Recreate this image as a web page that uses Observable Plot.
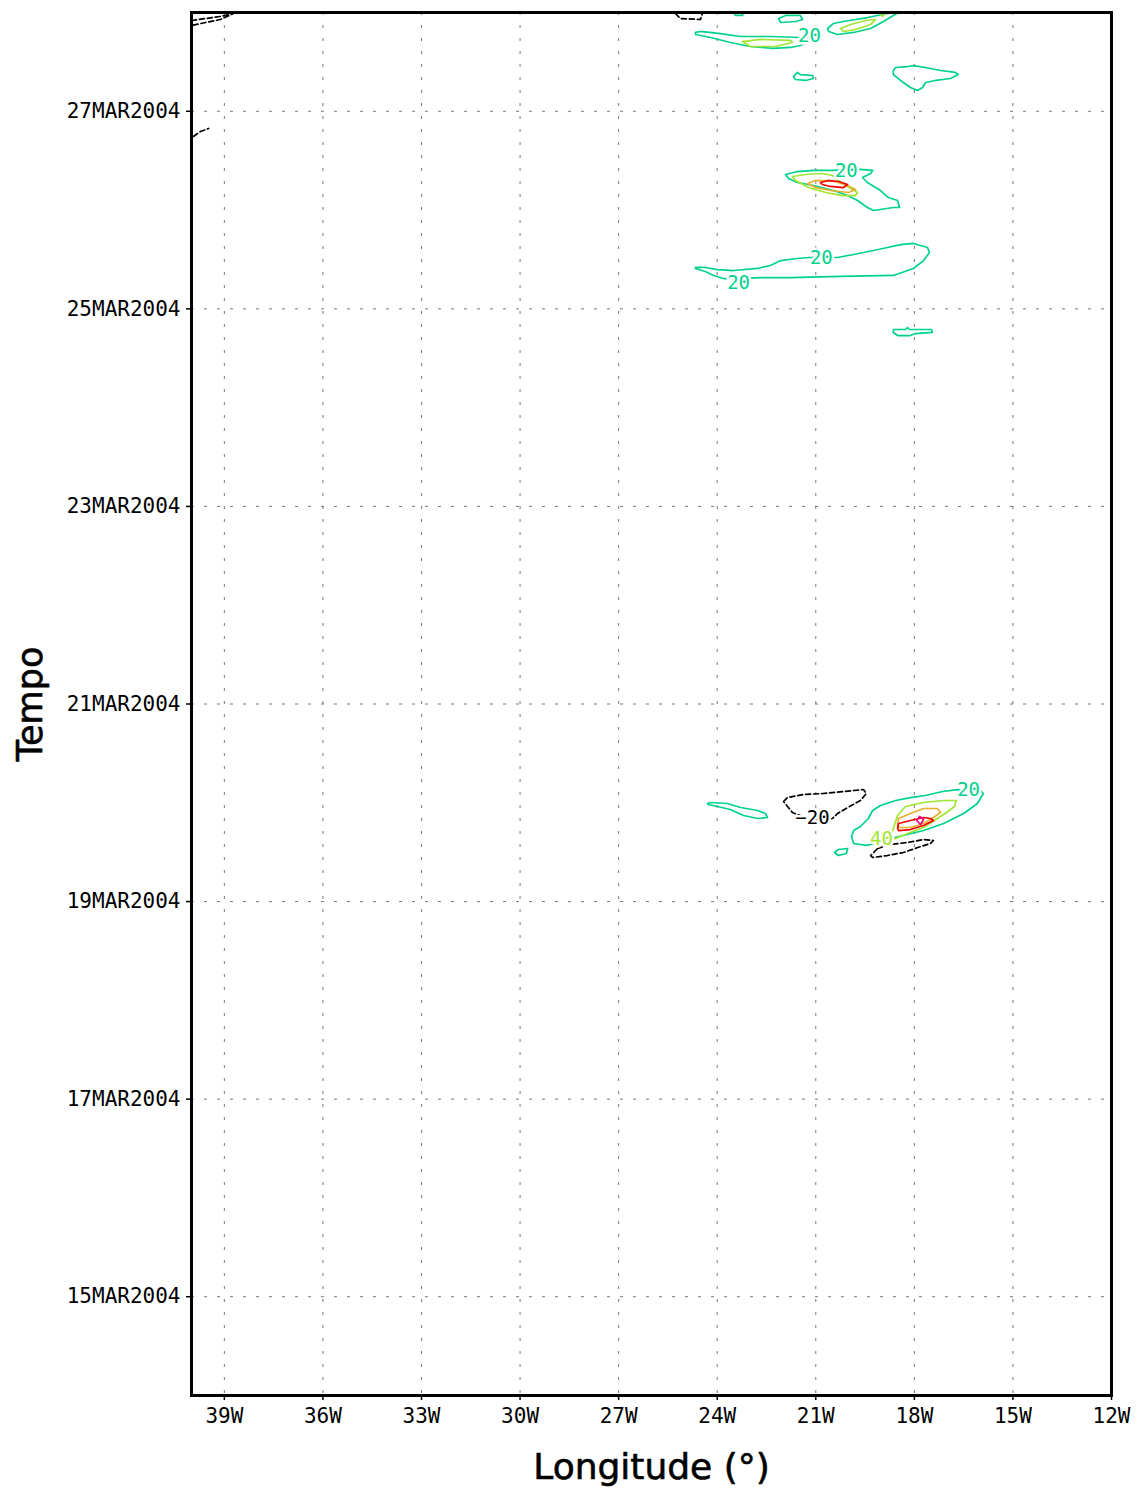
<!DOCTYPE html>
<html>
<head>
<meta charset="utf-8">
<script src="https://cdn.jsdelivr.net/npm/d3@7"></script>
<script src="https://cdn.jsdelivr.net/npm/@observablehq/plot@0.6"></script>
<style>
  html, body { margin: 0; padding: 0; background: #fff; }
</style>
</head>
<body>
<div id="chart"></div>
<script>
// Axis ticks (longitude in degrees east, negative = W; time in day-of-March 2004)
const xTicks = [-39, -36, -33, -30, -27, -24, -21, -18, -15, -12];
const xTickLabels = ["39W", "36W", "33W", "30W", "27W", "24W", "21W", "18W", "15W", "12W"];
const yTicks = [15, 17, 19, 21, 23, 25, 27];
const yTickLabels = ["15MAR2004", "17MAR2004", "19MAR2004", "21MAR2004", "23MAR2004", "25MAR2004", "27MAR2004"];

// Contour levels and colours
const levels = [-20, 20, 40, 60, 80, 100];
const levelColors = ["#000000", "#00d28c", "#a0e632", "#e6af2d", "#f00000", "#f00082"];

// Contour polylines: [longitude, day of March 2004]
const neg_topLeft = [[-40.00,27.919],[-39.57,27.939],[-39.12,27.960],[-38.72,27.990],[-39.12,27.929],[-39.57,27.899],[-40.00,27.868]];
const neg_left = [[-39.94,26.745],[-39.73,26.795],[-39.48,26.826]];
const neg_top = [[-25.27,27.990],[-25.12,27.939],[-24.51,27.929],[-24.45,27.990]];
const g20_tiny = [[-23.50,28.0],[-23.44,27.970],[-23.23,27.970],[-23.20,28.0]];
const g20_a = [[-22.13,27.939],[-21.92,27.970],[-21.47,27.970],[-21.40,27.929],[-21.61,27.909],[-22.07,27.899]];
const g20_b = [[-24.66,27.798],[-24.51,27.808],[-23.90,27.787],[-23.29,27.757],[-22.38,27.757],[-21.47,27.747],[-21.01,27.737],[-21.47,27.666],[-21.77,27.646],[-22.29,27.636],[-22.99,27.656],[-23.60,27.696],[-24.20,27.747],[-24.66,27.777]];
const y40_b = [[-23.23,27.706],[-22.68,27.727],[-21.77,27.717],[-21.71,27.696],[-22.23,27.656],[-22.99,27.656]];
const g20_c = [[-18.51,28.000],[-18.82,27.990],[-19.43,27.949],[-20.16,27.909],[-20.46,27.889],[-20.64,27.838],[-20.61,27.808],[-20.34,27.777],[-19.85,27.798],[-19.33,27.838],[-18.94,27.909],[-18.64,27.970],[-18.48,28.000]];
const y40_c = [[-20.25,27.838],[-19.94,27.879],[-19.49,27.919],[-19.18,27.929],[-19.33,27.879],[-19.79,27.828],[-20.16,27.808]];
const y40_d = [[-19.06,28.0],[-18.97,27.960],[-18.85,28.0]];
const g20_d = [[-21.68,27.352],[-21.56,27.393],[-21.47,27.372],[-21.10,27.362],[-21.07,27.332],[-21.31,27.312],[-21.62,27.322]];
const g20_e = [[-18.64,27.413],[-18.57,27.443],[-18.21,27.453],[-18.03,27.463],[-17.66,27.443],[-17.20,27.413],[-16.75,27.393],[-16.66,27.372],[-16.90,27.332],[-17.36,27.312],[-17.66,27.291],[-17.75,27.241],[-17.90,27.210],[-18.12,27.241],[-18.42,27.312],[-18.64,27.372]];
const g20_f = [[-21.92,26.360],[-21.56,26.390],[-21.07,26.401],[-20.46,26.401],[-20.03,26.411],[-19.64,26.411],[-19.27,26.401],[-19.33,26.370],[-19.58,26.330],[-19.43,26.279],[-19.03,26.198],[-18.79,26.127],[-18.51,26.097],[-18.45,26.026],[-18.64,26.026],[-19.24,25.996],[-19.43,26.026],[-19.73,26.097],[-20.03,26.147],[-20.46,26.198],[-21.07,26.249],[-21.56,26.279],[-21.83,26.320]];
const y40_f = [[-21.71,26.340],[-21.31,26.360],[-20.80,26.370],[-20.49,26.350],[-20.19,26.269],[-19.73,26.178],[-19.79,26.147],[-20.19,26.147],[-20.70,26.178],[-21.22,26.228],[-21.62,26.299]];
const o60_f = [[-21.25,26.269],[-21.01,26.299],[-20.55,26.299],[-20.10,26.259],[-19.79,26.208],[-20.00,26.178],[-20.55,26.198],[-21.01,26.228]];
const r80_f = [[-20.86,26.279],[-20.61,26.299],[-20.31,26.289],[-20.03,26.259],[-20.16,26.228],[-20.55,26.239],[-20.80,26.259]];
const g20_g = [[-24.66,25.419],[-24.36,25.419],[-23.99,25.398],[-23.50,25.388],[-22.77,25.409],[-22.38,25.439],[-22.07,25.489],[-21.56,25.510],[-21.22,25.520],[-20.34,25.520],[-19.85,25.550],[-19.24,25.591],[-18.82,25.621],[-18.42,25.651],[-18.03,25.662],[-17.60,25.621],[-17.54,25.570],[-17.72,25.489],[-18.03,25.409],[-18.64,25.338],[-20.25,25.328],[-21.77,25.317],[-22.68,25.317],[-23.29,25.307],[-23.81,25.307],[-24.11,25.338],[-24.36,25.378],[-24.66,25.409]];
const g20_h = [[-18.64,24.791],[-18.27,24.791],[-18.21,24.811],[-18.15,24.791],[-17.48,24.791],[-17.45,24.761],[-17.97,24.750],[-18.12,24.730],[-18.51,24.730],[-18.64,24.761]];
const g20_i = [[-24.30,19.993],[-24.20,20.003],[-23.69,19.993],[-23.29,19.952],[-22.77,19.922],[-22.53,19.891],[-22.47,19.851],[-22.77,19.841],[-23.20,19.871],[-23.60,19.932],[-23.99,19.962],[-24.27,19.983]];
const neg_i = [[-21.98,20.013],[-21.86,20.053],[-21.37,20.084],[-20.77,20.094],[-20.16,20.114],[-19.55,20.134],[-19.46,20.094],[-19.64,20.023],[-20.03,19.952],[-20.34,19.891],[-20.49,19.841],[-21.10,19.821],[-21.71,19.902],[-21.86,19.962]];
const g20_j = [[-19.40,19.841],[-19.27,19.922],[-19.03,19.972],[-18.57,20.023],[-18.12,20.053],[-17.66,20.074],[-17.14,20.114],[-16.69,20.134],[-15.99,20.124],[-15.90,20.094],[-16.08,19.993],[-16.50,19.891],[-17.11,19.790],[-17.72,19.719],[-18.21,19.679],[-18.73,19.638],[-19.24,19.588],[-19.43,19.568],[-19.85,19.588],[-19.91,19.659],[-19.85,19.719],[-19.64,19.760]];
const y40_j = [[-18.73,19.638],[-18.64,19.740],[-18.51,19.871],[-18.27,19.962],[-17.72,20.003],[-17.11,20.023],[-16.72,20.023],[-16.78,19.962],[-17.02,19.902],[-17.30,19.841],[-17.72,19.750],[-18.21,19.689],[-18.57,19.638]];
const o60_j = [[-18.51,19.770],[-18.48,19.841],[-18.12,19.891],[-17.72,19.942],[-17.30,19.942],[-17.20,19.902],[-17.42,19.851],[-17.72,19.790],[-18.12,19.750],[-18.48,19.750]];
const r80_j = [[-18.51,19.740],[-18.48,19.790],[-18.12,19.821],[-17.72,19.851],[-17.51,19.841],[-17.42,19.821],[-17.72,19.770],[-18.12,19.729],[-18.48,19.719]];
const m100_j = [[-17.93,19.821],[-17.84,19.861],[-17.72,19.831],[-17.81,19.780]];
const g20_k = [[-20.43,19.497],[-20.31,19.527],[-20.03,19.537],[-20.07,19.487],[-20.31,19.466]];
const neg_k = [[-19.12,19.537],[-18.73,19.578],[-18.21,19.598],[-17.72,19.628],[-17.42,19.618],[-17.51,19.588],[-17.90,19.547],[-18.33,19.497],[-18.82,19.466],[-19.27,19.446],[-19.33,19.466],[-19.18,19.517]];

// Contour labels
const contourLabels = [
  {lon: -21.19, day: 27.767, text: "20", level: 20},
  {lon: -20.07, day: 26.401, text: "20", level: 20},
  {lon: -20.83, day: 25.520, text: "20", level: 20},
  {lon: -23.35, day: 25.267, text: "20", level: 20},
  {lon: -21.10, day: 19.851, text: "\u221220", level: -20},
  {lon: -16.35, day: 20.134, text: "20", level: 20},
  {lon: -19.00, day: 19.638, text: "40", level: 40}
];

const contours = [
  {level: -20, closed: false, pts: neg_topLeft},
  {level: -20, closed: false, pts: neg_left},
  {level: -20, closed: false, pts: neg_top},
  {level: 20, closed: false, pts: g20_tiny},
  {level: 20, closed: true, pts: g20_a},
  {level: 20, closed: true, pts: g20_b},
  {level: 40, closed: true, pts: y40_b},
  {level: 20, closed: false, pts: g20_c},
  {level: 40, closed: true, pts: y40_c},
  {level: 40, closed: false, pts: y40_d},
  {level: 20, closed: true, pts: g20_d},
  {level: 20, closed: true, pts: g20_e},
  {level: 20, closed: true, pts: g20_f},
  {level: 40, closed: true, pts: y40_f},
  {level: 60, closed: true, pts: o60_f},
  {level: 80, closed: true, pts: r80_f},
  {level: 20, closed: true, pts: g20_g},
  {level: 20, closed: true, pts: g20_h},
  {level: 20, closed: true, pts: g20_i},
  {level: -20, closed: true, pts: neg_i},
  {level: 20, closed: true, pts: g20_j},
  {level: 40, closed: true, pts: y40_j},
  {level: 60, closed: true, pts: o60_j},
  {level: 80, closed: true, pts: r80_j},
  {level: 100, closed: true, pts: m100_j},
  {level: 20, closed: true, pts: g20_k},
  {level: -20, closed: true, pts: neg_k}
];

const colorOf = (lv) => levelColors[levels.indexOf(lv)];
const tickFont = "DejaVu Sans Mono, monospace";

const contourMarks = contours.map(c => Plot.line(c.pts, {
  x: d => d[0], y: d => d[1],
  stroke: colorOf(c.level),
  strokeWidth: 1.7,
  strokeDasharray: c.level < 0 ? "5,3" : undefined,
  curve: c.closed ? "linear-closed" : "linear",
  clip: true
}));

const labelMarks = contourLabels.map(l => Plot.text([l], {
  x: "lon", y: "day", text: "text",
  fill: colorOf(l.level),
  stroke: "white", strokeWidth: 5, paintOrder: "stroke",
  fontSize: 19, fontFamily: tickFont
}));

const chart = Plot.plot({
  width: 1141,
  height: 1493,
  marginTop: 12,
  marginRight: 30,
  marginBottom: 98,
  marginLeft: 191,
  style: {background: "white", color: "black", fontFamily: "DejaVu Sans, sans-serif"},
  x: {domain: [-40, -12]},
  y: {domain: [14, 28]},
  marks: [
    Plot.gridX({ticks: xTicks, stroke: "#777", strokeOpacity: 1, strokeWidth: 1, strokeDasharray: "3,10"}),
    Plot.gridY({ticks: yTicks, stroke: "#777", strokeOpacity: 1, strokeWidth: 1, strokeDasharray: "3,10"}),
    ...contourMarks,
    ...labelMarks,
    Plot.frame({stroke: "black", strokeWidth: 3}),
    Plot.axisX({ticks: xTicks, tickFormat: d => xTickLabels[xTicks.indexOf(d)], tickSize: 5, tickPadding: 8, fontSize: 21, fontFamily: tickFont, label: null, stroke: "black", strokeWidth: 1.5}),
    Plot.axisY({ticks: yTicks, tickFormat: d => yTickLabels[yTicks.indexOf(d)], tickSize: 5, tickPadding: 6, fontSize: 21, fontFamily: tickFont, label: null, stroke: "black", strokeWidth: 1.5}),
    Plot.text(["Longitude (°)"], {frameAnchor: "bottom", dy: 72, lineAnchor: "middle", textAnchor: "middle", text: d => d, fontSize: 36, fontFamily: "DejaVu Sans, sans-serif", fill: "black", stroke: "black", strokeWidth: 0.6}),
    Plot.text(["Tempo"], {frameAnchor: "left", dx: -161, rotate: -90, lineAnchor: "middle", textAnchor: "middle", text: d => d, fontSize: 35, fontFamily: "DejaVu Sans, sans-serif", fill: "black", stroke: "black", strokeWidth: 0.6})
  ]
});
document.getElementById("chart").appendChild(chart);
</script>
</body>
</html>
